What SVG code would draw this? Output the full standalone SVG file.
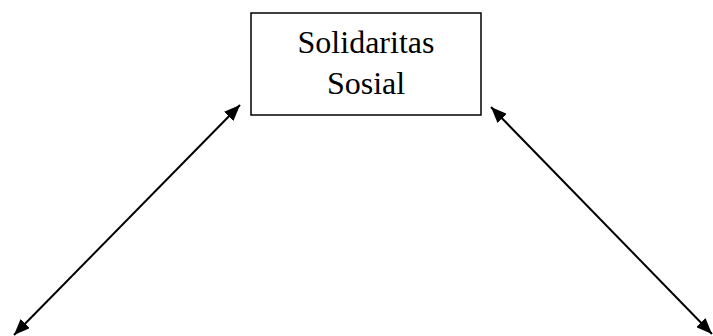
<svg xmlns="http://www.w3.org/2000/svg" width="713" height="336" viewBox="0 0 713 336">
<defs>
<marker id="ah" viewBox="0 0 10 10" refX="10" refY="5" markerWidth="16" markerHeight="13" markerUnits="userSpaceOnUse" orient="auto-start-reverse" preserveAspectRatio="none">
<path d="M0,0 L10,5 L0,10 z" fill="#000"/>
</marker>
<style>
.box{fill:#fff;stroke:#000;stroke-width:1.5}
.lbl{font-family:"Liberation Serif","Times New Roman",serif;font-size:32px;fill:#000;text-anchor:middle}
.conn{stroke:#000;stroke-width:2;fill:none}
</style>
</defs>
<rect width="713" height="336" fill="#fff"/>
<g id="solidaritas-sosial">
<rect class="box" x="251" y="13" width="230" height="102"/>
<text class="lbl" x="366" y="53">Solidaritas</text>
<text class="lbl" x="366" y="94">Sosial</text>
</g>
<g id="connectors">
<line class="conn" x1="240" y1="105" x2="14" y2="335" marker-start="url(#ah)" marker-end="url(#ah)"/>
<line class="conn" x1="491" y1="107" x2="712" y2="334" marker-start="url(#ah)" marker-end="url(#ah)"/>
</g>
</svg>
